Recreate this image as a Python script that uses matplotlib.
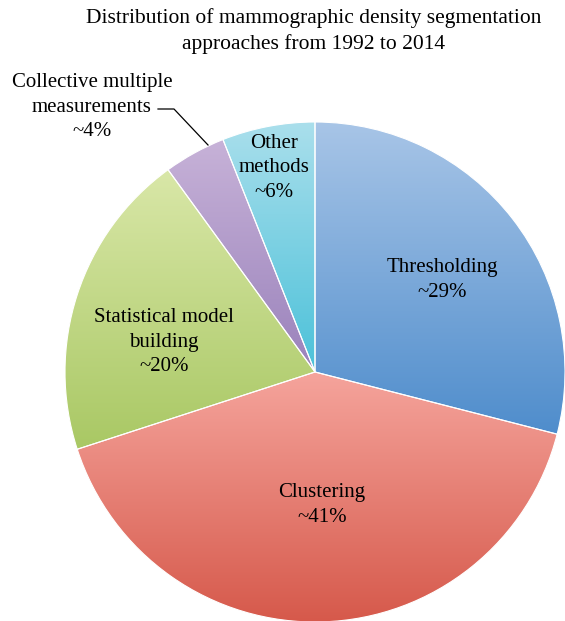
import numpy as np
import matplotlib
matplotlib.use("Agg")
import matplotlib.pyplot as plt
from matplotlib.colors import LinearSegmentedColormap

# Datos del gráfico
categories = ["Thresholding", "Clustering", "Statistical model building",
              "Collective multiple measurements", "Other methods"]
shares = [29, 41, 20, 4, 6]
top_colors = ["#a8c5e7", "#f5a49c", "#d9e7a8", "#c7b2d8", "#aadfec"]
bottom_colors = ["#4f8dcc", "#d6594b", "#a9c864", "#9a82bb", "#4bc1d9"]

title = "Distribution of mammographic density segmentation\napproaches from 1992 to 2014"

W, H = 565, 621
CX, CY, R = 315, H - 372, 250

plt.rcParams["font.family"] = ["Liberation Serif", "DejaVu Serif"]

fig = plt.figure(figsize=(W / 100, H / 100), dpi=100)
ax = fig.add_axes([0, 0, 1, 1])

wedges, _ = ax.pie(shares, center=(CX, CY), radius=R, startangle=90,
                   counterclock=False, frame=True,
                   wedgeprops=dict(edgecolor="white", linewidth=0.8))

# Degradado vertical dentro de cada sector
grad = np.linspace(0, 1, 256).reshape(-1, 1)
for w, c0, c1 in zip(wedges, top_colors, bottom_colors):
    w.set_facecolor("none")
    bb = w.get_path().get_extents(w.get_patch_transform())
    cmap = LinearSegmentedColormap.from_list("g", [c0, c1])
    im = ax.imshow(grad, cmap=cmap, aspect="auto", origin="upper",
                   extent=[bb.x0, bb.x1, bb.y0, bb.y1], zorder=0.5,
                   interpolation="bilinear")
    im.set_clip_path(w)

ax.set_xlim(0, W)
ax.set_ylim(0, H)
ax.set_aspect("equal")
ax.axis("off")

fs = 15
ax.text(314, H - 31, title, ha="center", va="center", fontsize=fs + 0.5,
        linespacing=1.4)

labels = [("Thresholding\n~29%", 442, 280),
          ("Clustering\n~41%", 322, 505),
          ("Statistical model\nbuilding\n~20%", 164, 342),
          ("Other\nmethods\n~6%", 274, 168),
          ("Collective multiple\nmeasurements\n~4%", 92, 107)]
for txt, x, y in labels:
    ax.text(x, H - y, txt, ha="center", va="center", fontsize=fs,
            linespacing=1.4, zorder=3)

# Línea guía de "Collective multiple measurements"
ax.plot([158, 174, 208], [H - 109, H - 109, H - 145], color="black",
        linewidth=0.9, zorder=3)

fig.savefig("out.png", dpi=100)
